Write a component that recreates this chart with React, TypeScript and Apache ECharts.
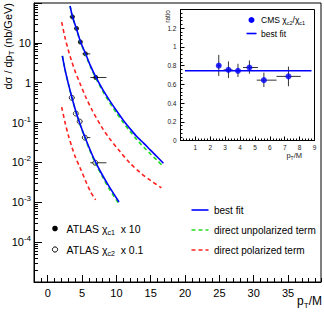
import React, { useEffect, useRef } from "react";
import * as echarts from "echarts";

const FONT = "'Liberation Sans', Arial, Helvetica, sans-serif";

// ATLAS chi_c1 (x10) data
const c1PT = [3.6, 4.2, 4.75, 5.5, 7.0];
const c1Val = [45, 23, 10.5, 5.3, 1.35];
const c1ErrLo = [41, 21, 9.6, 4.8, 1.2];
const c1ErrHi = [49, 25, 11.4, 5.8, 1.5];
// ATLAS chi_c2 (x0.1) data
const c2PT = [3.5, 4.1, 4.65, 5.4, 6.93];
const c2Val = [0.42, 0.168, 0.106, 0.042, 0.0098];
const c2ErrLo = [0.38, 0.15, 0.095, 0.037, 0.0086];
const c2ErrHi = [0.46, 0.186, 0.117, 0.047, 0.011];
// pT bins (shared)
const binLo = [3.2, 3.9, 4.4, 5.05, 6.2];
const binHi = [3.9, 4.4, 5.05, 6.2, 8.55];

// curves, chi_c1 x10
const hiPT = [3.25, 3.6, 4.2, 4.75, 5.5, 6.25, 7.0, 8.0, 9.0, 10.0, 11.0, 12.0, 13.0, 14.0, 15.0, 16.0, 16.85];
const fitHi = [84, 46, 22, 11.0, 5.4, 2.6, 1.4, 0.68, 0.36, 0.2, 0.115, 0.07, 0.044, 0.03, 0.02, 0.0135, 0.0095];
const unpolHi = [84, 45, 21.5, 10.6, 5.1, 2.45, 1.3, 0.62, 0.32, 0.175, 0.1, 0.06, 0.037, 0.024, 0.016, 0.011, 0.0078];
const polHiPT = [2.03, 2.5, 3.0, 3.5, 4.0, 4.66, 5.5, 6.5, 7.8, 9.0, 10.5, 12.0, 13.5, 15.0, 16.55];
const polHi = [33, 14, 6.5, 3.4, 1.9, 1.0, 0.45, 0.2, 0.08, 0.04, 0.019, 0.0095, 0.0055, 0.0035, 0.0023];
// curves, chi_c2 x0.1
const loPT = [2.13, 2.5, 3.0, 3.5, 4.1, 4.65, 5.4, 6.1, 6.93, 8.0, 9.0, 10.38];
const fitLo = [4.7, 2.2, 0.95, 0.44, 0.19, 0.098, 0.044, 0.022, 0.0105, 0.0047, 0.0024, 0.00102];
const unpolLo = [4.7, 2.2, 0.94, 0.43, 0.185, 0.095, 0.042, 0.0205, 0.0097, 0.0043, 0.0021, 0.0009];
const polLoPT = [2.03, 2.5, 3.0, 3.5, 4.0, 4.66, 5.5, 6.2, 6.97];
const polLo = [0.245, 0.105, 0.048, 0.025, 0.014, 0.0077, 0.0035, 0.0019, 0.00115];

// inset: CMS ratio
const cmsPT = [2.57, 3.22, 3.86, 4.63, 5.6, 7.25];
const cmsRatio = [0.8, 0.755, 0.745, 0.78, 0.645, 0.685];
const cmsLo = [0.69, 0.667, 0.678, 0.714, 0.572, 0.58];
const cmsHi = [0.915, 0.845, 0.82, 0.855, 0.725, 0.79];
const cmsPtLo = [2.45, 2.9, 3.75, 4.2, 5.12, 6.45];
const cmsPtHi = [2.7, 3.5, 3.97, 5.2, 6.45, 8.07];
const cmsFitVal = 0.745;
const cmsFitRange = [0.3, 8.8];

// axis ticks
const xMajor = [0, 5, 10, 15, 20, 25, 30, 35];
const yDecades = [1e-5, 1e-4, 1e-3, 1e-2, 1e-1, 1, 10, 100];
const yLabelVals = [1e-4, 1e-3, 1e-2, 1e-1, 1, 10];

const zip = (a: number[], b: number[]) => a.map((v, i) => [v, b[i]]);

const errRender = (color: string) => (params: any, api: any) => {
  const x = api.value(0), y = api.value(1);
  const c = api.coord([x, y]);
  const l = api.coord([api.value(2), y]);
  const h = api.coord([api.value(3), y]);
  const lo = api.coord([x, api.value(4)]);
  const hi = api.coord([x, api.value(5)]);
  return {
    type: "group",
    children: [
      { type: "line", shape: { x1: l[0], y1: c[1], x2: h[0], y2: c[1] }, style: { stroke: color, lineWidth: 1 } },
      { type: "line", shape: { x1: c[0], y1: lo[1], x2: c[0], y2: hi[1] }, style: { stroke: color, lineWidth: 1 } },
    ],
  };
};

const BLUE = "#0000ff";
const GREEN = "#22dd22";
const RED = "#ff2020";

export default function App() {
  const ref = useRef<HTMLDivElement>(null);
  useEffect(() => {
    const chart = echarts.init(ref.current!, null, { renderer: "svg" });
    const lineS = (data: number[][], color: string, dashed: boolean, xi = 0, yi = 0) => ({
      type: "line",
      xAxisIndex: xi,
      yAxisIndex: yi,
      data,
      smooth: 0.3,
      showSymbol: false,
      silent: true,
      lineStyle: { color, width: 1.6, type: dashed ? [4, 3] : "solid" },
    });
    const option: any = {
      animation: false,
      textStyle: { fontFamily: FONT },
      grid: [
        { left: 34, top: 3, width: 287, height: 279, show: true, borderColor: "#000", borderWidth: 1 },
        { left: 180.5, top: 9.5, width: 134, height: 131, show: true, borderColor: "#000", borderWidth: 1 },
      ],
      xAxis: [
        {
          gridIndex: 0, type: "value", min: -2, max: 39.8, position: "bottom",
          axisLine: { show: true, onZero: false, lineStyle: { color: "#000", width: 1 } },
          axisTick: { show: true, inside: true, length: 7, customValues: xMajor, lineStyle: { color: "#000" } },
          axisLabel: { customValues: xMajor, fontSize: 11, color: "#000", fontFamily: FONT, margin: 5 },
          splitLine: { show: false },
        },
        {
          gridIndex: 0, type: "value", min: -2, max: 39.8, interval: 1, position: "bottom",
          axisLine: { show: false },
          axisTick: { show: true, inside: true, length: 4, lineStyle: { color: "#000" } },
          axisLabel: { show: false },
          splitLine: { show: false },
        },
        {
          gridIndex: 1, type: "value", min: 0, max: 9, interval: 1, position: "bottom",
          axisLine: { show: true, onZero: false, lineStyle: { color: "#000", width: 1 } },
          axisTick: { show: true, inside: true, length: 4, lineStyle: { color: "#000" } },
          minorTick: { show: true, splitNumber: 5, length: 2, lineStyle: { color: "#000" } },
          axisLabel: { fontSize: 6.5, color: "#222", fontFamily: FONT, margin: 3, showMinLabel: false },
          splitLine: { show: false },
        },
      ],
      yAxis: [
        {
          gridIndex: 0, type: "log", logBase: 10, min: 1e-5, max: 100, splitNumber: 7,
          axisLine: { show: true, onZero: false, lineStyle: { color: "#000", width: 1 } },
          axisTick: { show: true, inside: true, length: 8, customValues: yDecades, lineStyle: { color: "#000" } },
          minorTick: { show: true, splitNumber: 9, length: 4, lineStyle: { color: "#000" } },
          axisLabel: {
            customValues: yLabelVals,
            fontSize: 11, color: "#000", fontFamily: FONT, margin: 3,
            formatter: (v: number) => {
              const e = Math.round(Math.log10(v));
              if (e === 1) return "10";
              if (e === 0) return "1";
              return "10{sup|" + e + "}";
            },
            rich: { sup: { fontSize: 8, fontFamily: FONT, color: "#000", padding: [0, 0, 7, 0] } },
          },
          splitLine: { show: false },
        },
        {
          gridIndex: 1, type: "value", min: 0, max: 1.4, interval: 0.2,
          axisLine: { show: true, onZero: false, lineStyle: { color: "#000", width: 1 } },
          axisTick: { show: true, inside: true, length: 4, lineStyle: { color: "#000" } },
          minorTick: { show: true, splitNumber: 5, length: 2, lineStyle: { color: "#000" } },
          axisLabel: {
            fontSize: 6.5, color: "#222", fontFamily: FONT, margin: 4, showMaxLabel: false,
            formatter: (v: number) => String(+v.toFixed(1)),
          },
          splitLine: { show: false },
        },
      ],
      series: [
        lineS(zip(polHiPT, polHi), RED, true),
        lineS(zip(polLoPT, polLo), RED, true),
        lineS(zip(hiPT, unpolHi), GREEN, true),
        lineS(zip(loPT, unpolLo), GREEN, true),
        lineS(zip(hiPT, fitHi), BLUE, false),
        lineS(zip(loPT, fitLo), BLUE, false),
        {
          type: "custom", xAxisIndex: 0, yAxisIndex: 0, silent: true,
          renderItem: errRender("#333"),
          data: [
            ...c1PT.map((x, i) => [x, c1Val[i], binLo[i], binHi[i], c1ErrLo[i], c1ErrHi[i]]),
            ...c2PT.map((x, i) => [x, c2Val[i], binLo[i], binHi[i], c2ErrLo[i], c2ErrHi[i]]),
          ],
        },
        {
          type: "scatter", xAxisIndex: 0, yAxisIndex: 0, silent: true,
          data: zip(c1PT, c1Val), symbol: "circle", symbolSize: 5,
          itemStyle: { color: "#000" },
        },
        {
          type: "scatter", xAxisIndex: 0, yAxisIndex: 0, silent: true,
          data: zip(c2PT, c2Val), symbol: "circle", symbolSize: 5,
          itemStyle: { color: "#fff", borderColor: "#000", borderWidth: 1 },
        },
        {
          type: "line", xAxisIndex: 2, yAxisIndex: 1, silent: true, showSymbol: false,
          data: cmsFitRange.map((x) => [x, cmsFitVal]),
          lineStyle: { color: BLUE, width: 1.6 },
        },
        {
          type: "custom", xAxisIndex: 2, yAxisIndex: 1, silent: true,
          renderItem: errRender("#333"),
          data: cmsPT.map((x, i) => [x, cmsRatio[i], cmsPtLo[i], cmsPtHi[i], cmsLo[i], cmsHi[i]]),
        },
        {
          type: "scatter", xAxisIndex: 2, yAxisIndex: 1, silent: true,
          data: zip(cmsPT, cmsRatio), symbol: "circle", symbolSize: 6,
          itemStyle: { color: BLUE },
        },
      ],
      graphic: [
        // main y title
        {
          type: "text", x: 8, y: 3, rotation: Math.PI / 2,
          style: {
            text: "{a|dσ / dp}{s|T}{a| (nb/GeV)}",
            align: "right", verticalAlign: "middle",
            rich: {
              a: { fontSize: 11, fontFamily: FONT, fill: "#000" },
              s: { fontSize: 7.5, fontFamily: FONT, fill: "#000", padding: [7, 0, 0, 0] },
            },
          },
        },
        // main x title
        {
          type: "text", x: 322, y: 301,
          style: {
            text: "{a|p}{s|T}{a|/M}",
            align: "right", verticalAlign: "middle",
            rich: {
              a: { fontSize: 12, fontFamily: FONT, fill: "#000" },
              s: { fontSize: 8, fontFamily: FONT, fill: "#000", padding: [8, 0, 0, 0] },
            },
          },
        },
        // inset y title
        {
          type: "text", x: 167, y: 10, rotation: Math.PI / 2,
          style: { text: "ratio", align: "right", verticalAlign: "middle", fontSize: 6.5, fontFamily: FONT, fill: "#222" },
        },
        // inset x title
        {
          type: "text", x: 302, y: 155.5,
          style: {
            text: "{a|p}{s|T}{a|/M}",
            align: "right", verticalAlign: "middle",
            rich: {
              a: { fontSize: 7.5, fontFamily: FONT, fill: "#222" },
              s: { fontSize: 5, fontFamily: FONT, fill: "#222", padding: [4, 0, 0, 0] },
            },
          },
        },
        // inset legend
        { type: "circle", shape: { cx: 251.5, cy: 20, r: 3 }, style: { fill: BLUE } },
        {
          type: "text", x: 261, y: 20,
          style: {
            text: "{a|CMS χ}{s|c2}{a|/χ}{s|c1}",
            align: "left", verticalAlign: "middle",
            rich: {
              a: { fontSize: 8.5, fontFamily: FONT, fill: "#000" },
              s: { fontSize: 5.5, fontFamily: FONT, fill: "#000", padding: [5, 0, 0, 0] },
            },
          },
        },
        { type: "line", shape: { x1: 246.5, y1: 33.5, x2: 256.5, y2: 33.5 }, style: { stroke: BLUE, lineWidth: 1.6 } },
        {
          type: "text", x: 261, y: 33.5,
          style: { text: "best fit", align: "left", verticalAlign: "middle", fontSize: 8.5, fontFamily: FONT, fill: "#000" },
        },
        // main legend (left)
        { type: "circle", shape: { cx: 55, cy: 228.5, r: 2.8 }, style: { fill: "#000" } },
        {
          type: "text", x: 66.5, y: 228.5,
          style: {
            text: "{a|ATLAS χ}{s|c1}{a|  x 10}",
            align: "left", verticalAlign: "middle",
            rich: {
              a: { fontSize: 10.5, fontFamily: FONT, fill: "#000" },
              s: { fontSize: 7, fontFamily: FONT, fill: "#000", padding: [7, 0, 0, 0] },
            },
          },
        },
        { type: "circle", shape: { cx: 55, cy: 249.5, r: 2.6 }, style: { fill: "#fff", stroke: "#000", lineWidth: 1 } },
        {
          type: "text", x: 66.5, y: 249.5,
          style: {
            text: "{a|ATLAS χ}{s|c2}{a|  x 0.1}",
            align: "left", verticalAlign: "middle",
            rich: {
              a: { fontSize: 10.5, fontFamily: FONT, fill: "#000" },
              s: { fontSize: 7, fontFamily: FONT, fill: "#000", padding: [7, 0, 0, 0] },
            },
          },
        },
        // main legend (right)
        { type: "line", shape: { x1: 191.5, y1: 210, x2: 208.5, y2: 210 }, style: { stroke: BLUE, lineWidth: 1.6 } },
        { type: "text", x: 214, y: 210, style: { text: "best fit", align: "left", verticalAlign: "middle", fontSize: 10, fontFamily: FONT, fill: "#000" } },
        { type: "line", shape: { x1: 191.5, y1: 230, x2: 208.5, y2: 230 }, style: { stroke: GREEN, lineWidth: 1.6, lineDash: [4, 3] } },
        { type: "text", x: 214, y: 230, style: { text: "direct unpolarized term", align: "left", verticalAlign: "middle", fontSize: 10, fontFamily: FONT, fill: "#000" } },
        { type: "line", shape: { x1: 191.5, y1: 250, x2: 208.5, y2: 250 }, style: { stroke: RED, lineWidth: 1.6, lineDash: [4, 3] } },
        { type: "text", x: 214, y: 250, style: { text: "direct polarized term", align: "left", verticalAlign: "middle", fontSize: 10, fontFamily: FONT, fill: "#000" } },
      ],
    };
    chart.setOption(option);
    return () => chart.dispose();
  }, []);
  return <div ref={ref} style={{ position: "fixed", left: 0, top: 0, width: 324, height: 312, background: "#fff" }} />;
}
